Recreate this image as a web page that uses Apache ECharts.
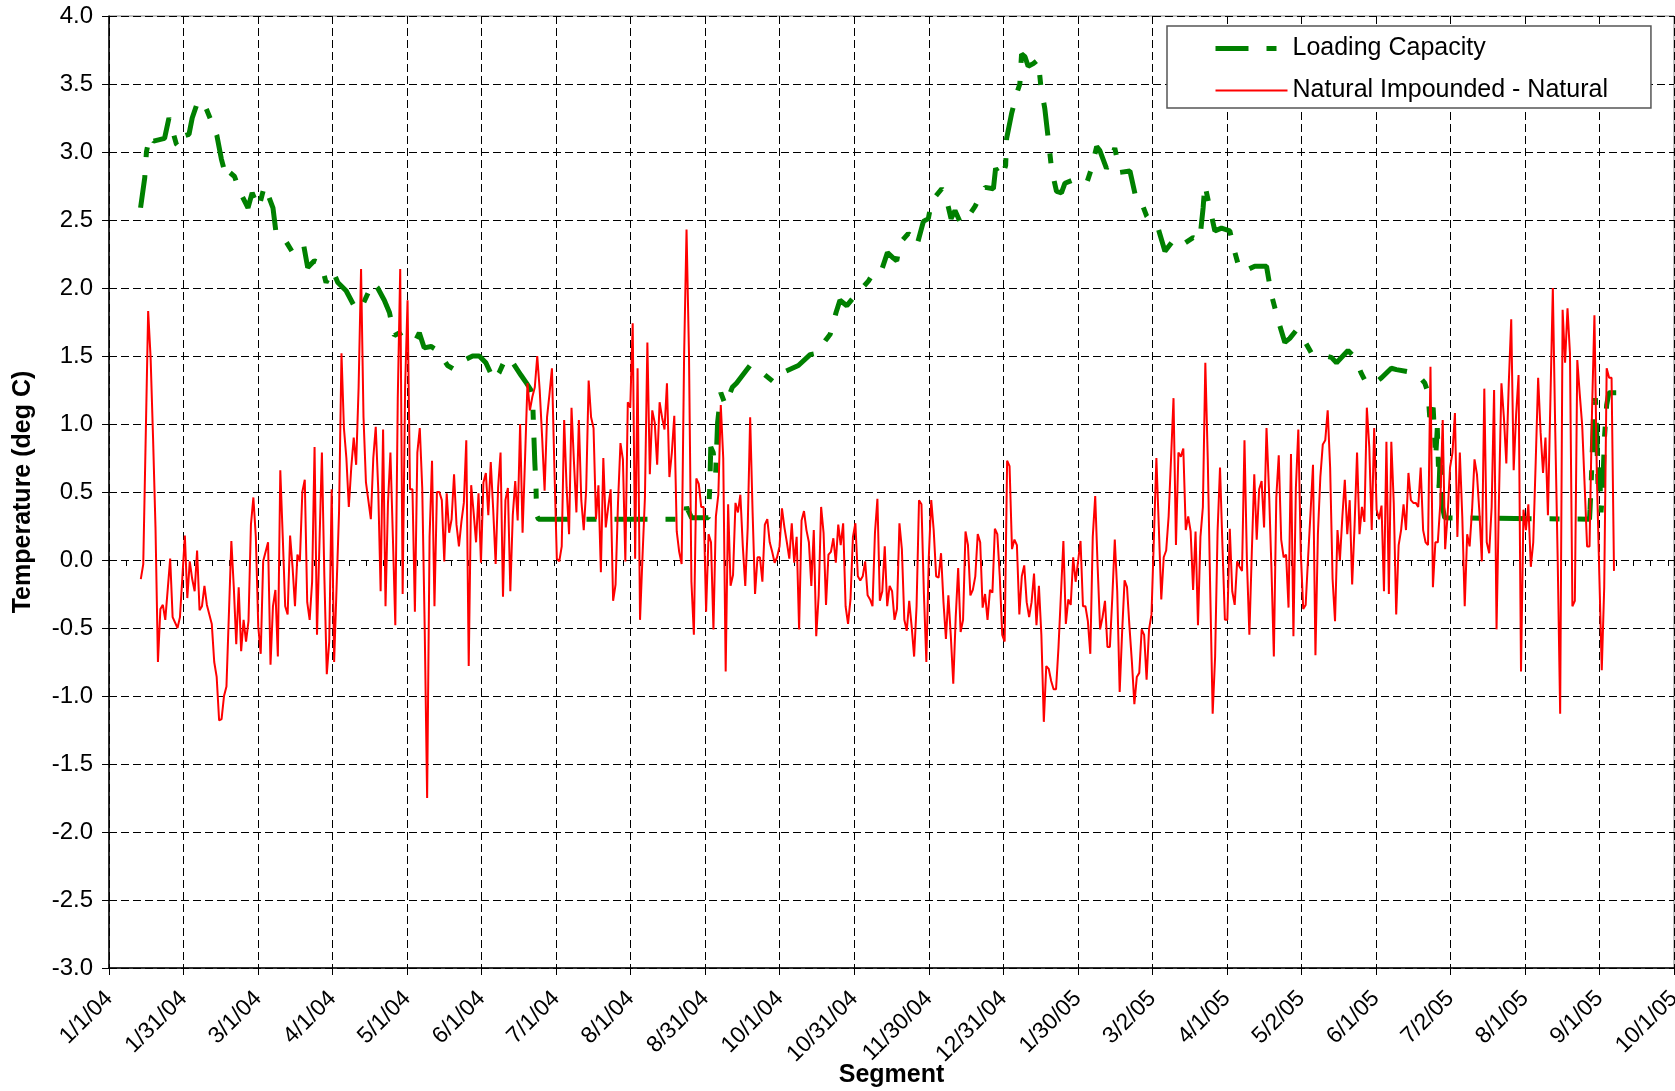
<!DOCTYPE html>
<html><head><meta charset="utf-8">
<script src="https://cdn.jsdelivr.net/npm/echarts@6/dist/echarts.min.js"></script>
<style>html,body{margin:0;padding:0;background:#fff}#c{width:1675px;height:1091px}</style>
</head><body><div id="c"></div>
<script>
const FONT = "'Liberation Sans', Arial, Helvetica, sans-serif";
const START = Date.UTC(2004, 0, 1);          // day 0 = 1/1/04
const TICK_STEP = 30.453125;                  // days between date labels
const TICK_COUNT = 21;
const WEEK = 7;
const Y_MIN = -3, Y_MAX = 4, Y_STEP = 0.5;

const seriesNames = ['Loading Capacity', 'Natural Impounded - Natural'];

// Natural Impounded - Natural (day index since 1/1/04, deg C)
const redDays = [13,14,16,17,18,19,20,21,22,23,25,26,28,29,31,32,33,34,35,36,37,38,39,40,42,43,44,45,46,47,48,50,51,52,53,54,55,56,57,58,59,60,61,62,63,65,66,67,68,69,70,71,72,73,74,75,76,77,78,79,80,81,82,83,84,85,87,88,89,90,91,92,94,95,96,97,98,99,100,101,102,103,104,105,107,108,109,110,111,112,113,114,115,116,117,118,119,120,121,122,123,124,125,126,127,128,129,130,131,132,133,134,135,136,137,138,139,140,141,142,143,144,145,146,147,148,149,150,151,152,153,154,155,156,157,158,159,160,161,162,163,164,165,166,167,168,169,170,171,172,173,174,175,176,177,178,179,180,181,182,183,184,185,186,187,188,189,190,191,192,193,194,195,196,197,198,199,200,201,202,203,204,205,206,207,208,209,210,211,212,213,214,215,216,217,218,219,220,221,222,223,224,225,226,227,228,229,230,231,232,233,234,235,236,237,238,239,240,241,242,243,244,245,246,247,248,249,250,251,252,253,254,255,256,257,258,259,260,261,262,263,264,265,266,267,268,269,270,271,272,273,274,275,276,277,278,279,280,281,282,283,284,285,286,287,288,289,290,291,292,293,294,295,296,297,298,299,300,301,302,303,304,305,306,307,308,309,310,311,312,313,314,315,316,317,318,319,320,321,322,323,324,325,326,327,328,329,330,331,332,333,334,335,336,337,338,339,340,341,342,343,344,345,346,347,348,349,350,351,352,353,354,355,356,357,358,359,360,361,362,363,364,365,366,367,368,369,370,371,372,373,374,375,376,377,378,379,380,381,382,383,384,385,386,387,388,389,390,391,392,393,394,395,396,397,398,399,400,401,402,403,404,405,406,407,408,409,410,411,412,413,414,415,416,417,418,419,420,421,422,423,424,425,426,427,428,429,430,431,432,433,434,435,436,437,438,439,440,441,442,443,444,445,446,447,448,449,450,451,452,453,454,455,456,457,458,459,460,461,462,463,464,465,466,467,468,469,470,471,472,473,474,475,476,477,478,479,480,481,482,483,484,485,486,487,488,489,490,491,492,493,494,495,496,497,498,499,500,501,502,503,504,505,506,507,508,509,510,511,512,513,514,515,516,517,518,519,520,521,522,523,524,525,526,527,528,529,530,531,532,533,534,535,536,537,538,539,540,541,542,543,544,545,546,547,548,549,550,551,552,553,554,555,556,557,558,559,560,561,562,563,564,565,566,567,568,569,570,571,572,573,574,575,576,577,578,579,580,581,582,583,584,585,586,587,588,590,591,592,593,594,595,596,597,598,599,600,601,602,603,604,605,606,607,608,609,610,611,612,613,614,615];
const redVals = [-0.14,-0.03,1.83,1.49,0.9,0.24,-0.75,-0.36,-0.33,-0.44,0.01,-0.42,-0.5,-0.42,0.18,-0.28,-0.01,-0.14,-0.23,0.07,-0.37,-0.34,-0.19,-0.33,-0.47,-0.75,-0.86,-1.18,-1.17,-1.0,-0.93,0.14,-0.2,-0.62,-0.2,-0.67,-0.44,-0.6,-0.45,0.26,0.46,0.17,-0.49,-0.69,-0.01,0.13,-0.77,-0.34,-0.22,-0.71,0.66,0.17,-0.34,-0.4,0.18,-0.05,-0.34,0.04,-0.01,0.5,0.59,-0.31,-0.44,-0.16,0.83,-0.55,0.79,-0.12,-0.84,-0.6,0.52,-0.75,0.35,1.52,0.97,0.75,0.39,0.68,0.9,0.7,1.27,2.14,1.05,0.57,0.3,0.75,0.98,0.53,-0.23,0.96,-0.34,0.42,0.79,0.17,-0.48,1.19,2.14,-0.25,1.27,1.91,0.52,0.52,-0.38,0.79,0.97,0.53,-0.49,-1.75,0.17,0.73,-0.34,0.5,0.5,0.44,-0.01,0.49,0.2,0.3,0.63,0.26,0.1,0.28,0.42,0.88,-0.78,0.55,0.35,0.13,0.49,-0.02,0.57,0.64,0.33,0.72,0.37,-0.03,0.53,0.79,-0.27,0.44,0.53,-0.23,0.33,0.58,0.29,1.0,0.2,0.74,1.3,1.1,1.2,1.27,1.5,1.25,0.9,0.51,1.05,1.22,1.41,0.68,0.01,-0.01,0.1,1.03,0.53,0.19,1.12,0.72,0.35,1.03,0.44,0.22,0.52,1.32,1.05,0.97,0.3,0.55,-0.09,0.75,0.24,0.39,0.52,-0.3,-0.18,0.42,0.86,0.74,-0.01,1.16,1.12,1.74,0.01,1.41,-0.44,0.02,0.46,1.6,0.63,1.1,1.01,0.7,1.16,1.05,0.96,1.3,0.61,0.79,1.06,0.21,0.06,-0.03,1.49,2.43,1.52,-0.16,-0.55,0.6,0.56,0.39,0.39,-0.38,0.19,0.13,-0.51,0.32,0.48,1.14,0.75,-0.82,0.41,-0.19,-0.11,0.42,0.35,0.48,0.1,-0.19,0.24,1.05,0.35,-0.25,0.02,0.02,-0.16,0.26,0.3,0.13,0.06,-0.02,0.02,0.1,0.38,0.24,0.13,0.01,0.27,-0.02,0.17,-0.51,0.29,0.36,0.22,0.13,-0.19,0.22,-0.56,-0.26,0.39,0.2,-0.33,0.04,0.06,0.16,-0.02,0.26,0.11,0.27,-0.34,-0.47,-0.29,0.17,0.27,-0.12,-0.15,-0.12,-0.01,-0.26,-0.29,-0.34,0.2,0.45,-0.3,-0.23,0.1,-0.34,-0.19,-0.23,-0.44,-0.36,0.27,0.08,-0.44,-0.52,-0.3,-0.49,-0.71,-0.34,0.44,0.41,-0.25,-0.75,0.02,0.44,0.22,-0.12,-0.13,0.05,-0.31,-0.58,-0.26,-0.56,-0.91,-0.42,-0.06,-0.53,-0.44,0.21,0.11,-0.26,-0.22,-0.12,0.19,0.13,-0.35,-0.25,-0.44,-0.22,-0.24,0.23,0.19,-0.12,-0.55,-0.6,0.73,0.69,0.08,0.15,0.11,-0.4,-0.12,-0.04,-0.31,-0.42,-0.31,-0.1,-0.48,-0.19,-0.55,-1.19,-0.78,-0.8,-0.89,-0.95,-0.95,-0.64,-0.25,0.14,-0.47,-0.29,-0.33,0.02,-0.16,-0.01,0.14,-0.34,-0.34,-0.45,-0.69,0.17,0.47,-0.05,-0.51,-0.42,-0.3,-0.64,-0.64,-0.27,0.15,-0.23,-0.97,-0.53,-0.15,-0.2,-0.49,-0.75,-1.06,-0.86,-0.83,-0.51,-0.55,-0.88,-0.51,-0.4,0.17,0.75,0.24,-0.29,0.02,0.07,0.32,0.75,1.19,0.11,0.79,0.76,0.82,0.22,0.32,0.21,-0.22,0.21,-0.48,0.17,0.39,1.45,0.74,-0.22,-1.13,-0.71,0.21,0.68,0.1,-0.44,-0.44,0.23,-0.23,-0.33,-0.01,-0.05,-0.08,0.88,-0.01,-0.55,0.06,0.63,0.15,0.52,0.58,0.24,0.97,0.52,-0.05,-0.71,0.46,0.77,0.15,0.02,0.04,-0.35,0.78,-0.56,0.53,0.96,0.06,-0.36,-0.33,0.02,0.35,0.7,-0.7,0.19,0.61,0.85,0.88,1.1,0.68,-0.14,-0.45,0.22,0.0,0.32,0.59,0.19,0.44,-0.18,0.26,0.79,0.19,0.39,0.28,1.12,0.83,0.22,0.97,0.37,0.3,0.4,-0.23,0.87,-0.25,0.87,0.42,-0.4,0.11,0.22,0.41,0.22,0.64,0.44,0.42,0.42,0.39,0.68,0.22,0.13,0.11,1.42,-0.2,0.13,0.13,0.41,1.03,0.08,0.33,0.68,0.79,1.08,0.17,0.79,0.32,-0.34,0.19,0.1,0.37,0.74,0.63,0.35,-0.01,1.26,0.13,0.05,0.39,1.25,-0.51,0.46,1.3,1.05,0.71,1.3,1.77,0.66,1.07,1.36,-0.82,0.37,0.22,0.41,-0.05,0.13,0.72,1.34,0.94,0.64,0.9,0.33,2.0,0.94,-0.01,-1.13,1.84,1.45,1.85,1.52,-0.34,-0.3,1.47,1.22,0.99,0.55,0.1,0.1,1.08,1.8,0.61,-0.11,-0.81,-0.2,1.41,1.34,1.34,-0.08];

// Loading Capacity (day index since 1/1/04, deg C)
const capDays = [12.9,14.6,15.3,16.6,18.2,22.7,24.5,27.5,28.9,30.9,32.7,34.0,35.7,37.0,39.7,43.1,44.1,45.9,47.9,49.3,51.3,53.4,56.8,58.5,59.9,61.2,63.5,64.9,67.0,68.3,71.0,75.1,77.1,79.6,81.2,83.9,86.7,88.7,91.4,93.5,96.9,101.0,103.0,107.8,109.8,112.5,114.6,116.6,118.6,120.4,125.4,126.8,128.8,131.6,134.3,138.4,141.1,145.2,148.6,151.3,154.0,157.4,159.5,162.2,164.3,168.3,170.6,172.4,173.1,173.5,174.0,174.5,174.7,175.5,235.3,236.0,238.1,244.9,245.5,245.9,246.9,247.9,248.7,250.0,251.9,254.7,256.4,261.9,264.7,271.5,275.6,281.7,286.5,289.2,293.0,294.7,297.1,298.7,301.5,304.2,308.3,310.3,313.0,315.7,318.1,320.5,321.9,323.2,326.6,328.0,330.1,332.8,334.8,336.2,340.3,341.6,344.1,345.7,347.7,349.5,353.9,355.0,358.0,361.4,362.3,364.8,366.4,366.8,368.8,370.9,372.2,372.9,374.3,375.6,377.7,379.7,380.8,382.4,383.8,385.2,387.2,389.2,390.6,393.4,399.5,401.5,403.6,404.9,407.6,409.0,411.0,413.1,417.2,419.9,421.9,424.0,426.0,428.7,431.5,434.9,436.9,439.6,443.0,445.7,447.1,447.8,449.8,451.9,454.6,458.0,460.1,462.1,464.8,468.2,473.0,475.0,477.8,480.5,482.5,485.2,487.3,491.4,494.8,499.5,501.6,506.3,509.0,511.8,513.8,517.2,520.0,524.0,526.1,532.2,534.9,537.7,539.0,539.7,541.1,542.1,542.8,543.5,544.0,544.9,545.8,605.0,605.2,605.7,606.1,606.6,607.4,608.0,608.5,609.1,609.7,610.4,611.1,612.0,612.9,615.9];
const capVals = [2.59,2.81,3.0,3.12,3.08,3.1,3.25,3.06,3.03,3.12,3.13,3.25,3.34,3.28,3.32,3.17,3.12,2.95,2.81,2.85,2.82,2.71,2.59,2.7,2.64,2.59,2.75,2.69,2.59,2.4,2.38,2.26,2.25,2.31,2.15,2.2,2.18,2.04,2.13,2.04,1.98,1.84,1.85,2.04,2.0,1.91,1.82,1.65,1.67,1.62,1.62,1.67,1.56,1.57,1.54,1.43,1.4,1.47,1.5,1.5,1.45,1.32,1.38,1.49,1.47,1.36,1.3,1.25,1.19,0.97,0.72,0.53,0.33,0.3,0.3,0.39,0.31,0.31,0.53,0.83,0.79,0.64,1.01,1.23,1.14,1.27,1.3,1.43,1.41,1.31,1.38,1.43,1.51,1.52,1.62,1.66,1.82,1.91,1.87,1.93,2.01,2.05,2.13,2.13,2.26,2.22,2.2,2.33,2.4,2.38,2.31,2.49,2.51,2.64,2.73,2.7,2.51,2.57,2.49,2.48,2.6,2.64,2.74,2.73,2.88,2.81,2.9,3.1,3.28,3.43,3.5,3.72,3.7,3.63,3.65,3.68,3.48,3.32,3.1,2.87,2.71,2.7,2.77,2.79,2.77,2.88,3.04,3.01,2.88,2.92,3.03,2.85,2.86,2.64,2.63,2.53,2.48,2.44,2.27,2.35,2.37,2.33,2.37,2.35,2.59,2.76,2.59,2.42,2.44,2.42,2.26,2.13,2.13,2.16,2.16,1.95,1.76,1.6,1.63,1.69,1.65,1.52,1.51,1.49,1.45,1.54,1.49,1.37,1.3,1.3,1.34,1.41,1.4,1.38,1.36,1.3,1.23,1.05,1.12,0.75,0.97,0.53,0.79,0.39,0.31,0.3,0.37,0.57,0.79,1.05,1.19,0.9,0.52,0.68,0.35,0.53,0.9,1.14,1.23,1.23];

function dateLabel(v) {
  const d = new Date(START + Math.floor(v + 1e-6) * 86400000);
  return (d.getUTCMonth() + 1) + '/' + d.getUTCDate() + '/' + String(d.getUTCFullYear()).slice(2);
}
const zip = (xs, ys) => xs.map((x, i) => [x, ys[i]]);

const chart = echarts.init(document.getElementById('c'), null, {renderer: 'canvas'});
const X_MAX = TICK_STEP * TICK_COUNT;
const gridDash = [8, 4];
const capLine = {color: '#008000', width: 5, type: [33, 18, 10, 18], cap: 'butt'};
const redLine = {color: '#ff0000', width: 2};

chart.setOption({
  animation: false,
  backgroundColor: '#ffffff',
  textStyle: {fontFamily: FONT},
  grid: {left: 109, right: 1, top: 16, bottom: 123, show: true, borderColor: '#808080', borderWidth: 1,
         backgroundColor: 'transparent', containLabel: false, outerBoundsMode: 'none'},
  legend: {
    data: [
      {name: seriesNames[0], itemStyle: {opacity: 0}, lineStyle: capLine},
      {name: seriesNames[1], itemStyle: {opacity: 0}, lineStyle: redLine}
    ],
    orient: 'vertical',
    left: 1167, top: 26,
    padding: [10, 43, 5, 46],
    itemWidth: 72, itemHeight: 25, itemGap: 17,
    backgroundColor: '#ffffff',
    borderColor: '#555555', borderWidth: 1.5, borderRadius: 0,
    itemStyle: {opacity: 0},
    textStyle: {fontFamily: FONT, fontSize: 25, color: '#000', lineHeight: 25},
    selectedMode: false
  },
  xAxis: [{
    type: 'value', min: 0, max: X_MAX, interval: TICK_STEP,
    position: 'bottom',
    name: 'Segment', nameLocation: 'middle', nameGap: 95, nameMoveOverlap: false,
    nameTextStyle: {fontFamily: FONT, fontSize: 25, fontWeight: 'bold', color: '#000'},
    axisLine: {show: true, onZero: false, lineStyle: {color: '#000', width: 1.5}},
    axisTick: {show: true, length: 7, lineStyle: {color: '#000', width: 1}},
    axisLabel: {show: true, rotate: 45, margin: 27, fontSize: 23, color: '#000', fontFamily: FONT, formatter: dateLabel, showMinLabel: true, showMaxLabel: true, hideOverlap: false},
    splitLine: {show: true, lineStyle: {color: '#000', width: 1, type: gridDash}}
  }, {
    type: 'value', min: 0, max: X_MAX, interval: WEEK,
    position: 'bottom', offset: 0,
    axisLine: {show: false},
    axisTick: {show: true, length: 6, lineStyle: {color: '#000', width: 1}},
    axisLabel: {show: false},
    splitLine: {show: false}
  }],
  yAxis: {
    type: 'value', min: Y_MIN, max: Y_MAX, interval: Y_STEP,
    name: 'Temperature (deg C)', nameLocation: 'middle', nameGap: 73, nameRotate: 90, nameMoveOverlap: false,
    nameTextStyle: {fontFamily: FONT, fontSize: 25, fontWeight: 'bold', color: '#000'},
    axisLine: {show: true, onZero: false, lineStyle: {color: '#000', width: 1.5}},
    axisTick: {show: true, length: 7, lineStyle: {color: '#000', width: 1}},
    axisLabel: {margin: 16, fontSize: 24, color: '#000', fontFamily: FONT, formatter: v => v.toFixed(1)},
    splitLine: {show: true, lineStyle: {color: '#000', width: 1, type: gridDash}}
  },
  series: [{
    name: seriesNames[0], type: 'line', xAxisIndex: 0,
    data: zip(capDays, capVals),
    symbol: 'none', showSymbol: false,
    lineStyle: capLine,
    itemStyle: {color: '#008000'},
    z: 2
  }, {
    name: seriesNames[1], type: 'line', xAxisIndex: 0,
    data: zip(redDays, redVals),
    symbol: 'none', showSymbol: false,
    lineStyle: redLine,
    itemStyle: {color: '#ff0000'},
    z: 3
  }]
});
</script>
</body></html>
